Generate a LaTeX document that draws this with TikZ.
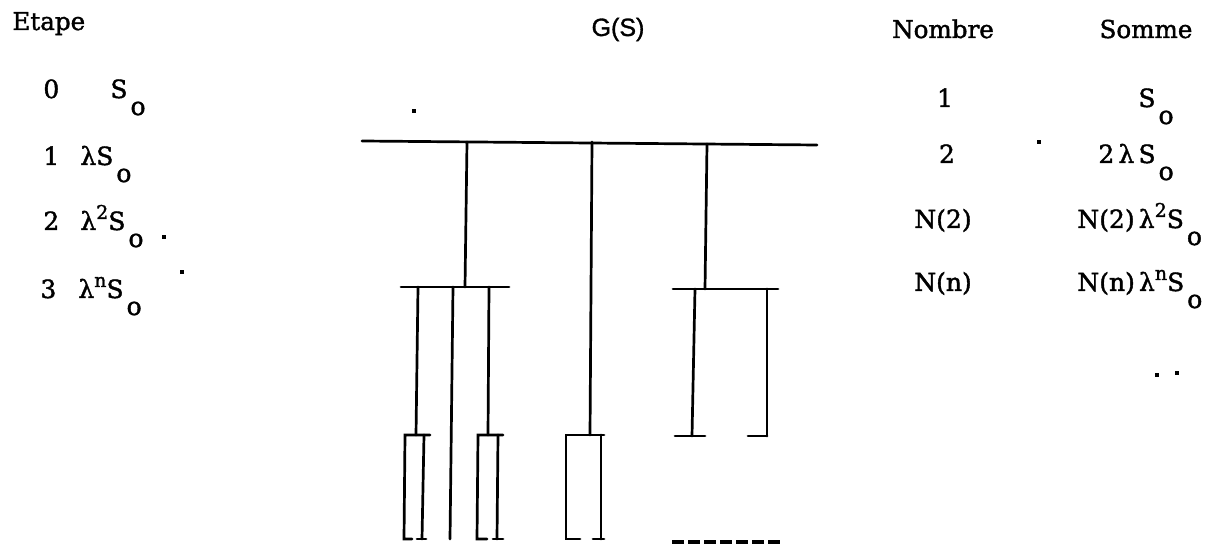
\documentclass[tikz,border=0pt]{standalone}
\usepackage{fontspec}
\setmainfont{DejaVu Serif}[FakeBold=1.6]
\newfontfamily\gsfont{Liberation Sans}[FakeBold=1.2]
\newcommand\So{S\kern1.5pt\raisebox{-8.5pt}{o}}
\newcommand\Up[1]{\raisebox{5.5pt}{\fontsize{9.5}{10}\selectfont #1}}
\begin{document}
\begin{tikzpicture}[x=0.5pt,y=-0.5pt,
  tl/.style={line width=1.35pt,line cap=round},
  hdr/.style={inner sep=0pt,font=\fontsize{12.3}{13}\selectfont},
  row/.style={inner sep=0pt,anchor=base west,font=\fontsize{12.5}{14}\selectfont},
  rowc/.style={inner sep=0pt,anchor=base,font=\fontsize{12.5}{14}\selectfont},
  speck/.style={fill=black,inner sep=0pt,minimum size=2pt,rectangle}]
\useasboundingbox (0,0) rectangle (1220,544);
% headers
\node[hdr,anchor=base west] (hE) at (12,30) {Etape};
\node[inner sep=0pt,anchor=base,font=\gsfont\fontsize{12.5}{14}\selectfont] (hG) at (618,36) {G(S)};
\node[hdr,anchor=base] (hN) at (943,38) {Nombre};
\node[hdr,anchor=base] (hS) at (1146,38) {Somme};
% left column
\node[row] (n0) at (43,98) {0};
\node[row] (e0) at (110,98) {\So};
\node[row] (n1) at (43,165) {1};
\node[row] (e1) at (80,165) {λ\So};
\node[row] (n2) at (43,230) {2};
\node[row] (e2) at (80,230) {λ\Up{2}\So};
\node[row] (n3) at (40,298) {3};
\node[row] (e3) at (78,298) {λ\Up{n}\So};
% Nombre column
\node[rowc] (m1) at (945,107) {1};
\node[rowc] (m2) at (947,163) {2};
\node[rowc] (m3) at (943,228) {N(2)};
\node[rowc] (m4) at (943,291) {N(n)};
% Somme column
\node[row] (s1) at (1138,107) {\So};
\node[row] (s2) at (1098,163) {2\,λ\,\So};
\node[row] (s3) at (1077,228) {N(2)\,λ\Up{2}\So};
\node[row] (s4) at (1077,291) {N(n)\,λ\Up{n}\So};
% tree coordinates
\coordinate (TL) at (362,141);
\coordinate (TR) at (817,145);
\coordinate (A) at (467,142);
\coordinate (B) at (592,142);
\coordinate (C) at (707,144);
\coordinate (A2) at (465,287);
\coordinate (B2) at (590,435);
\coordinate (C2) at (705,289);
% level 0 bar and branches
\draw[tl] (TL) -- (TR);
\draw[tl] (A) -- (A2);
\draw[tl] (B) -- (B2);
\draw[tl] (C) -- (C2);
% level 1 bars
\draw[tl] (401,287) -- (509,287);
\draw[tl] (673,289) -- (778,289);
% left children
\draw[tl] (418,287) -- (416,435);
\draw[tl] (453,287) -- (450,539);
\draw[tl] (489,287) -- (488,435);
% right children
\draw[tl] (695,289) -- (692,436);
\draw[tl] (767,289) -- (767,436);
\draw[tl] (675,436) -- (705,436);
\draw[tl] (748,436) -- (767,436);
% bracket 1
\draw[tl] (412,539) -- (404,539) -- (405,435) -- (430,435);
\draw[tl] (424,435) -- (422,539);
\draw[tl] (417,539) -- (426,539);
% bracket 2
\draw[tl] (487,539) -- (477,539) -- (478,435) -- (503,435);
\draw[tl] (498,435) -- (497,539);
\draw[tl] (493,539) -- (503,539);
% bracket 3
\draw[tl] (580,539) -- (566,539) -- (566,435) -- (604,435);
\draw[tl] (601,435) -- (601,539);
\draw[tl] (593,539) -- (604,539);
% dashed row
\coordinate (D1) at (672,542);
\coordinate (D2) at (782,542);
\draw[line width=1.6pt,dash pattern=on 6pt off 2pt] (D1) -- (D2);
% specks
\node[speck] (p1) at (414,111) {};
\node[speck] (p2) at (164,237) {};
\node[speck] (p3) at (182,272) {};
\node[speck] (p4) at (1039,142) {};
\node[speck] (p5) at (1157,375) {};
\node[speck] (p6) at (1177,373) {};
\end{tikzpicture}
\end{document}
